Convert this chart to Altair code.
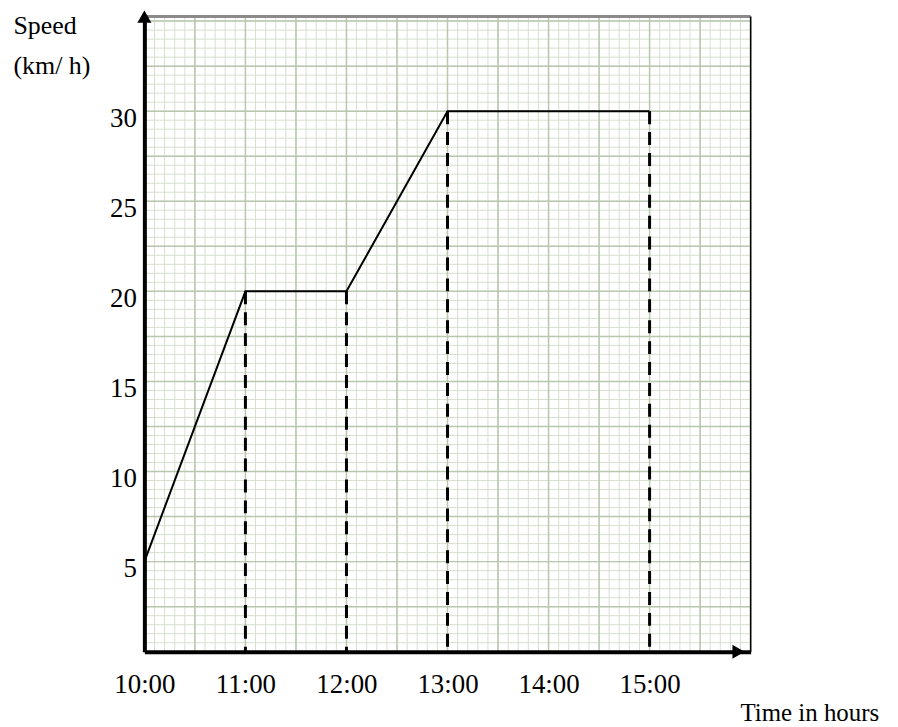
import altair as alt
import pandas as pd

# ---- data ----
times = [10, 11, 12, 13, 15]          # hour of day
speeds = [5, 20, 20, 30, 30]          # km/h
drop_times = [11, 12, 13, 15]
drop_speeds = [20, 20, 30, 30]
x_ticks = [10, 11, 12, 13, 14, 15]
y_ticks = [5, 10, 15, 20, 25, 30]

X_MIN, X_MAX = 10, 16
Y_MIN, Y_MAX = 0, 35.25

# graph-paper grid (decoration)
minor_x = [round(X_MIN + i * 0.1, 2) for i in range(61)]
major_x = [v for i, v in enumerate(minor_x) if i % 5 == 0]
minor_y = [round(i * 0.5, 2) for i in range(71)]
major_y = [v for i, v in enumerate(minor_y) if i % 5 == 0]

FONT = "Liberation Serif"
FS = 27

xs = alt.Scale(domain=[X_MIN, X_MAX], nice=False, zero=False)
ys = alt.Scale(domain=[Y_MIN, Y_MAX], nice=False, zero=False)

XAX = alt.Axis(
    values=x_ticks, labelExpr="datum.value + ':00'",
    title="Time in hours", titleX=668, titleY=69, titleAlign="center",
    titleBaseline="alphabetic", titleFont=FONT, titleFontSize=25,
    titleFontWeight="normal", titleColor="black",
    labelFont=FONT, labelFontSize=FS, labelColor="black", labelFlush=False,
    labelOverlap=False, labelBaseline="middle", labelPadding=33,
    ticks=False, tickSize=0,
    domainColor="black", domainWidth=4, grid=False, zindex=1)
YAX = alt.Axis(
    values=y_ticks, title=["Speed", "(km/ h)"], titleAngle=0, titleAlign="left",
    titleBaseline="alphabetic", titleX=-132, titleY=17, titleLineHeight=40,
    titleFont=FONT, titleFontSize=26, titleFontWeight="normal", titleColor="black",
    labelFont=FONT, labelFontSize=FS, labelColor="black", labelFlush=False,
    labelOverlap=False, labelBaseline="middle", labelOffset=7, labelPadding=8,
    ticks=False, tickSize=0,
    domainColor="black", domainWidth=4, grid=False, zindex=1)


def X(field=None, **kw):
    if field is None:
        return alt.X(scale=xs, axis=XAX, **kw)
    return alt.X(field, scale=xs, axis=XAX, **kw)


def Y(field=None, **kw):
    if field is None:
        return alt.Y(scale=ys, axis=YAX, **kw)
    return alt.Y(field, scale=ys, axis=YAX, **kw)


line_df = pd.DataFrame({"t": times, "v": speeds})
drop_df = pd.DataFrame({"t": drop_times, "v": drop_speeds, "z": [0] * len(drop_times)})

vminor = alt.Chart(pd.DataFrame({"gx": minor_x})).mark_rule(color="#d6dfd0", strokeWidth=1).encode(
    x=X("gx:Q"))
hminor = alt.Chart(pd.DataFrame({"gy": minor_y})).mark_rule(color="#d6dfd0", strokeWidth=1).encode(
    y=Y("gy:Q"))
vmajor = alt.Chart(pd.DataFrame({"gx": major_x})).mark_rule(color="#b8c7ae", strokeWidth=1.5).encode(
    x=X("gx:Q"))
hmajor = alt.Chart(pd.DataFrame({"gy": major_y})).mark_rule(color="#b8c7ae", strokeWidth=1.5).encode(
    y=Y("gy:Q"))

top_edge = alt.Chart().mark_rule(color="#8a8a8a", strokeWidth=3).encode(
    y=Y(datum=Y_MAX))
right_edge = alt.Chart().mark_rule(color="black", strokeWidth=1.5).encode(
    x=X(datum=X_MAX))

drops = alt.Chart(drop_df).mark_rule(color="black", strokeWidth=3, strokeDash=[13, 8]).encode(
    x=X("t:Q"), y=Y("v:Q"), y2="z:Q")

line = alt.Chart(line_df).mark_line(color="black", strokeWidth=2).encode(
    x=X("t:Q"), y=Y("v:Q"))

arrow_up = alt.Chart().mark_point(shape="triangle-up", filled=True, color="black", size=200, opacity=1).encode(
    x=X(datum=X_MIN), y=Y(datum=Y_MAX))
arrow_right = alt.Chart().mark_point(shape="triangle-right", filled=True, color="black", size=200, opacity=1).encode(
    x=X(datum=15.88), y=Y(datum=Y_MIN))

chart = alt.layer(
    vminor, hminor, vmajor, hmajor, top_edge, right_edge, drops, line, arrow_up, arrow_right
).properties(
    width=609, height=638,
    padding={"left": 137, "top": 7, "right": 140, "bottom": 74},
    autosize="none",
).configure_view(fill="#eef5e8", stroke=None).configure(background="white")

chart.save("out.html", embed_options={"renderer": "svg", "actions": False})
